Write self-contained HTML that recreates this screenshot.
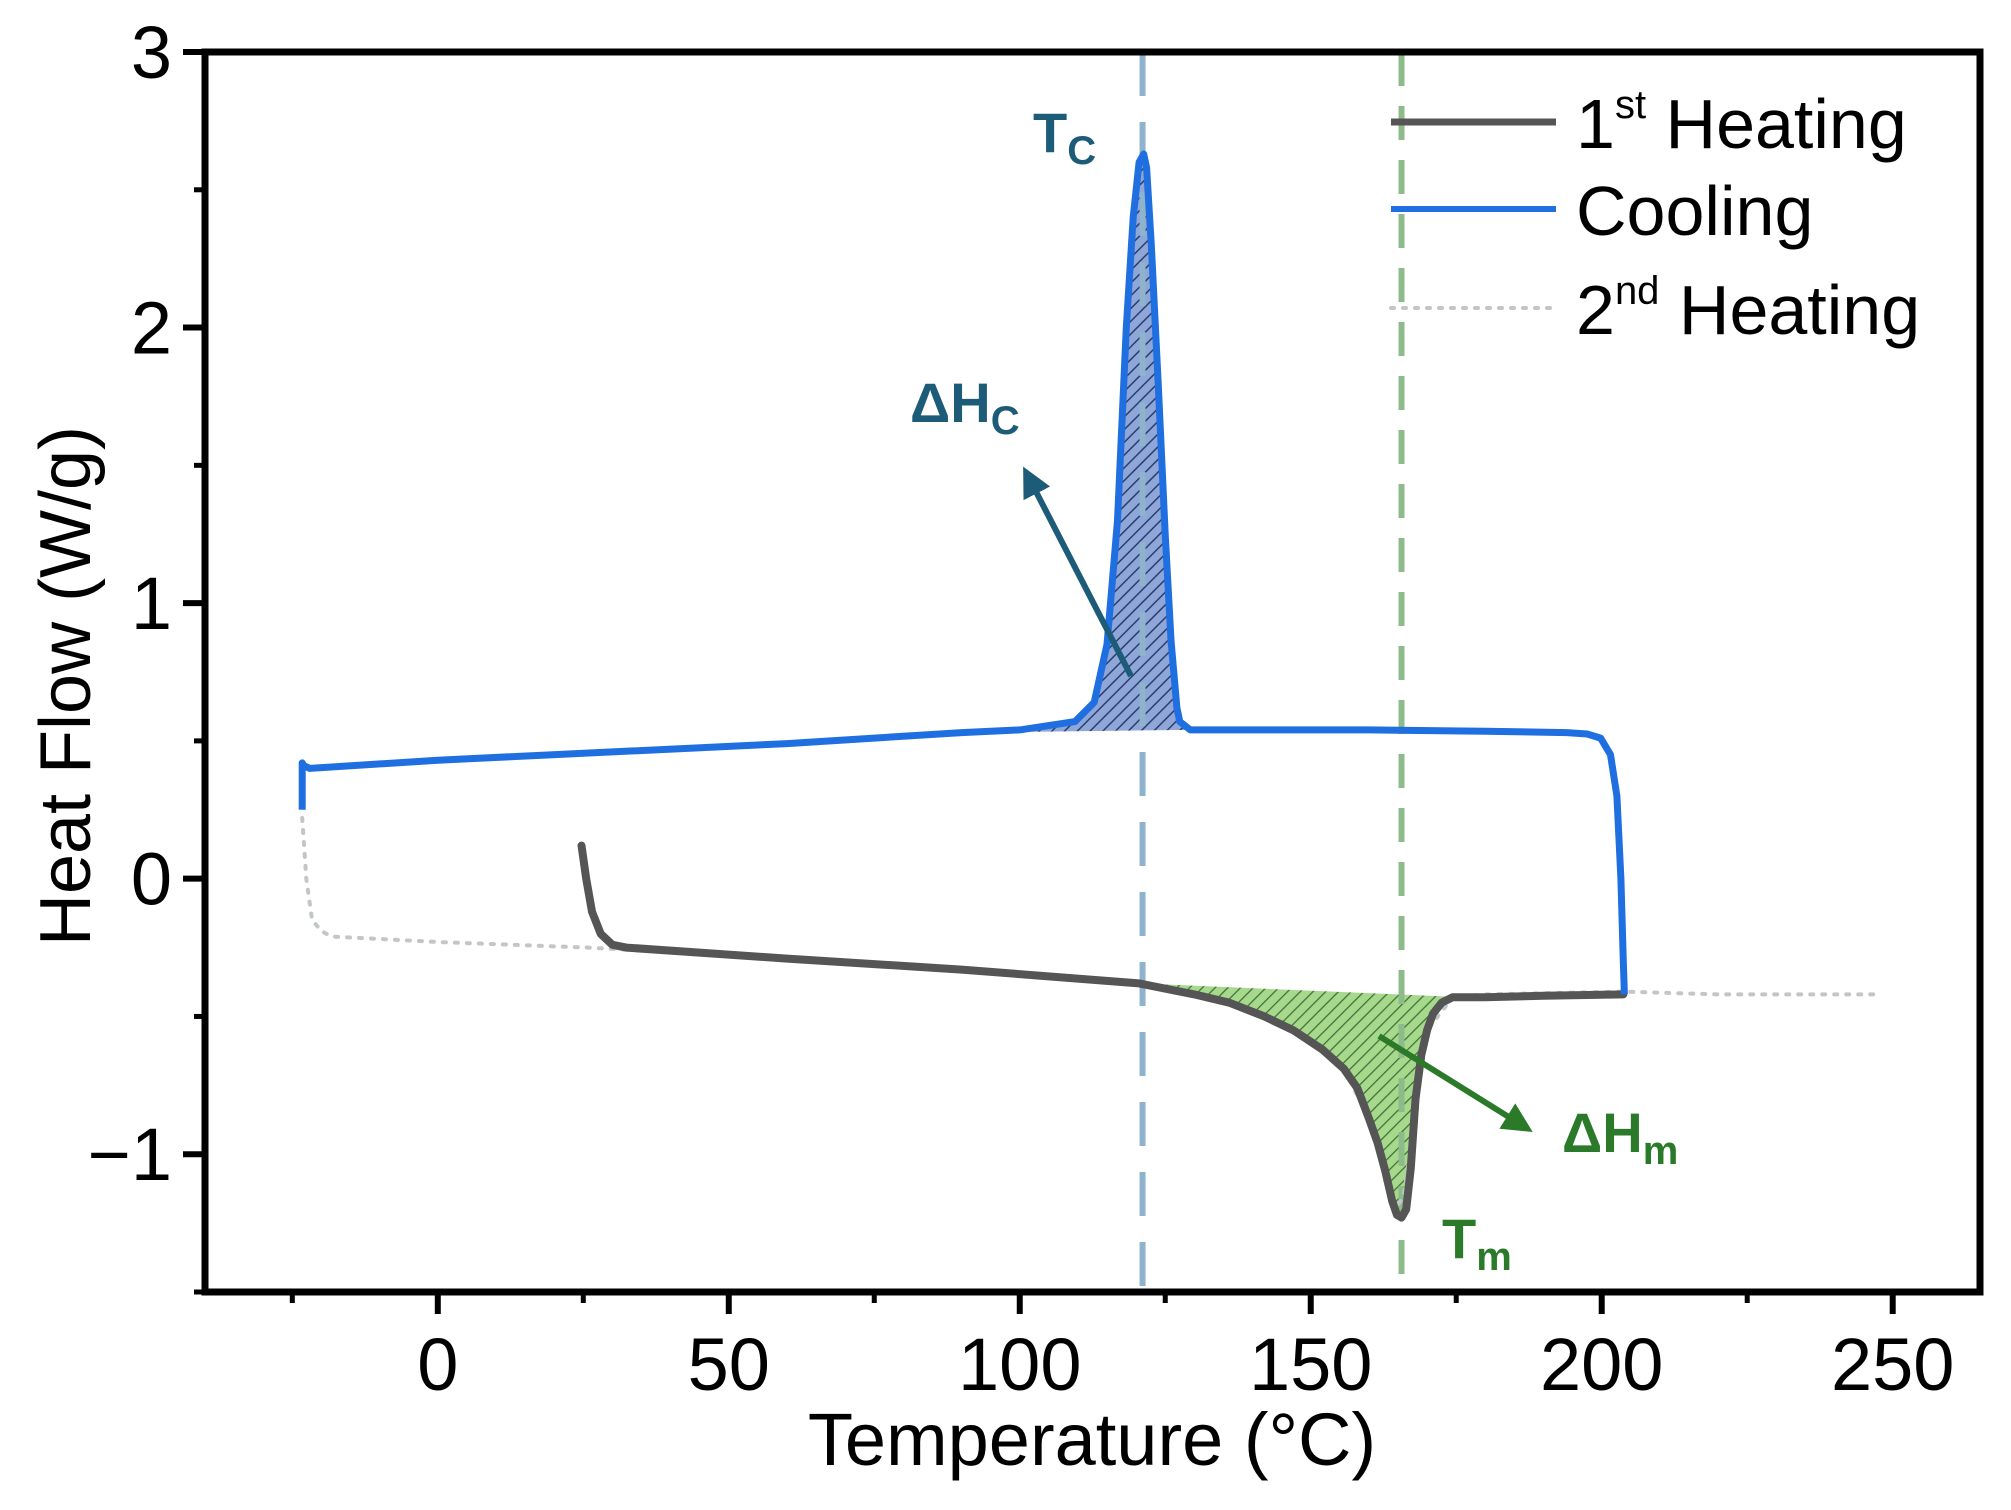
<!DOCTYPE html>
<html><head><meta charset="utf-8"><style>
html,body{margin:0;padding:0;background:#fff;}
svg{display:block;font-family:"Liberation Sans",Arial,sans-serif;}
</style></head><body>
<svg id="chart" width="2011" height="1510" viewBox="0 0 2011 1510" xmlns="http://www.w3.org/2000/svg">
<defs>
<pattern id="hatchBlue" patternUnits="userSpaceOnUse" width="9" height="9" patternTransform="rotate(45)">
<rect width="9" height="9" fill="#8fa6d8"/><line x1="0" y1="0" x2="0" y2="9" stroke="#2a3e6e" stroke-width="3"/></pattern>
<pattern id="hatchGreen" patternUnits="userSpaceOnUse" width="9" height="9" patternTransform="rotate(45)">
<rect width="9" height="9" fill="#a6d98c"/><line x1="0" y1="0" x2="0" y2="9" stroke="#3f6e37" stroke-width="2.5"/></pattern>
<marker id="arrTeal" markerWidth="5" markerHeight="5" refX="2.5" refY="2.5" orient="auto" markerUnits="strokeWidth"><path d="M0,0 L5,2.5 L0,5 Z" fill="#1d5c78"/></marker>
<marker id="arrGreen" markerWidth="5" markerHeight="5" refX="2.5" refY="2.5" orient="auto" markerUnits="strokeWidth"><path d="M0,0 L5,2.5 L0,5 Z" fill="#2a7a2a"/></marker>
</defs>
<g id="plot"></g>
</svg>
<script>
const xTicks=[0,50,100,150,200,250];
const xMinorTicks=[-25,25,75,125,175,225];
const yTicks=[3,2,1,0,-1];
const yTickLabels=["3","2","1","0","\u22121"];
const yMinorTicks=[2.5,1.5,0.5,-0.5,-1.5];
const coolingX=[-23.3,-23.3,-23,-22,0,30,60,90,100,109.5,112.8,115,116.8,118.3,119.5,120.5,121.3,121.8,122.6,123.8,125,126,127,127.5,129.3,140,160,180,194,197.5,199.8,201.5,202.6,203.3,203.7,203.9];
const coolingY=[0.25,0.42,0.41,0.40,0.43,0.46,0.49,0.53,0.54,0.57,0.64,0.85,1.3,2.0,2.4,2.6,2.63,2.58,2.3,1.79,1.25,0.86,0.62,0.57,0.54,0.54,0.54,0.535,0.53,0.525,0.51,0.45,0.3,0.0,-0.3,-0.42];
const heat1X=[24.7,25.5,26.5,28,30,32.4,60,90,120.5,130,136,142,147,152,155.7,158,160,161.5,162.8,164,164.8,165.6,166.4,167.2,168,169,170,171,172.5,174.4,180,190,203.7];
const heat1Y=[0.12,0.0,-0.12,-0.2,-0.24,-0.25,-0.29,-0.33,-0.38,-0.42,-0.45,-0.5,-0.55,-0.62,-0.69,-0.76,-0.87,-0.96,-1.06,-1.17,-1.22,-1.23,-1.2,-1.05,-0.8,-0.64,-0.55,-0.49,-0.45,-0.43,-0.43,-0.425,-0.42];
const heat2X=[-23.3,-22.6,-21.6,-20,-18.3,0,25.8,60,90,120.5,136,147,155.7,160,162.8,164.5,166,170,174.4,180,203.7,220,247];
const heat2Y=[0.22,0.0,-0.15,-0.19,-0.21,-0.23,-0.25,-0.29,-0.33,-0.38,-0.45,-0.55,-0.69,-0.87,-1.06,-1.2,-1.15,-0.55,-0.43,-0.42,-0.41,-0.42,-0.42];
const tc=121.1, tm=165.6;
const coolBaseX=[90,129.3], coolBaseY=[0.53,0.54];
const meltBaseX=[120.5,176], meltBaseY=[-0.38,-0.43];

const X0=205,X1=1980,XMIN=-40,XMAX=265;
const Y0=1292,Y1=52,YMIN=-1.5,YMAX=3;
const sx=v=>X0+(v-XMIN)/(XMAX-XMIN)*(X1-X0);
const sy=v=>Y0-(v-YMIN)/(YMAX-YMIN)*(Y0-Y1);
const NS="http://www.w3.org/2000/svg";
const g=document.getElementById('plot');
function mk(tag,attrs,parent){const e=document.createElementNS(NS,tag);for(const k in attrs)e.setAttribute(k,attrs[k]);(parent||g).appendChild(e);return e;}
function pts(xs,ys){return xs.map((x,i)=>sx(x).toFixed(1)+','+sy(ys[i]).toFixed(1));}

function areaPath(xs,ys,x0,x1,bx,by){
  const p=[];xs.forEach((x,i)=>{if(x>=x0&&x<=x1)p.push(sx(x).toFixed(1)+','+sy(ys[i]).toFixed(1));});
  return 'M'+sx(bx[0])+','+sy(by[0])+' L'+p.join(' L')+' L'+sx(bx[1])+','+sy(by[1])+' Z';
}
let a=mk('path',{d:areaPath(coolingX,coolingY,coolBaseX[0],coolBaseX[1],coolBaseX,coolBaseY),fill:'url(#hatchBlue)'});


a=mk('path',{d:areaPath(heat1X,heat1Y,meltBaseX[0],meltBaseX[1],meltBaseX,meltBaseY),fill:'url(#hatchGreen)'});



let d=mk('line',{x1:sx(tc),x2:sx(tc),y1:Y1,y2:Y0,stroke:'#8fb3cc','stroke-width':6,'stroke-dasharray':'44,26'});


d=mk('line',{x1:sx(tm),x2:sx(tm),y1:Y1,y2:Y0,stroke:'#8dbb8a','stroke-width':6,'stroke-dasharray':'34,20'});



let s=mk('polyline',{points:pts(heat2X,heat2Y).join(' '),fill:'none',stroke:'#c3c6c8','stroke-width':4,'stroke-dasharray':'3,9','stroke-linecap':'round'});


s=mk('polyline',{points:pts(heat1X,heat1Y).join(' '),fill:'none',stroke:'#555','stroke-width':8,'stroke-linejoin':'round','stroke-linecap':'round'});


s=mk('polyline',{points:pts(coolingX,coolingY).join(' '),fill:'none',stroke:'#1f6fe0','stroke-width':7,'stroke-linejoin':'round'});



let f=mk('rect',{x:X0,y:Y1,width:X1-X0,height:Y0-Y1,fill:'none',stroke:'#000','stroke-width':7});



xTicks.forEach((v,i)=>{
  const t=mk('line',{x1:sx(v),x2:sx(v),y1:Y0,y2:Y0+22,stroke:'#000','stroke-width':6});
  
  
  const l=mk('text',{x:sx(v),y:1390,'font-size':74,'text-anchor':'middle',fill:'#000'});
  l.textContent=String(v);
  
  
});
xMinorTicks.forEach(v=>{
  const t=mk('line',{x1:sx(v),x2:sx(v),y1:Y0,y2:Y0+11,stroke:'#000','stroke-width':5});
  
  
});
yTicks.forEach((v,i)=>{
  const t=mk('line',{x1:X0-22,x2:X0,y1:sy(v),y2:sy(v),stroke:'#000','stroke-width':6});
  
  
  const l=mk('text',{x:172,y:sy(v)+26,'font-size':74,'text-anchor':'end',fill:'#000'});
  l.textContent=yTickLabels[i];
  
  
});
yMinorTicks.forEach(v=>{
  const t=mk('line',{x1:X0-11,x2:X0,y1:sy(v),y2:sy(v),stroke:'#000','stroke-width':5});
  
  
});
</script>
<script>
(function(){
const NS="http://www.w3.org/2000/svg";const svg=document.getElementById('chart');
function txt(html,attrs,name){const e=document.createElementNS(NS,'text');for(const k in attrs)e.setAttribute(k,attrs[k]);e.innerHTML=html;svg.appendChild(e);return e;}
function ln(attrs,name){const e=document.createElementNS(NS,'line');for(const k in attrs)e.setAttribute(k,attrs[k]);svg.appendChild(e);return e;}
txt('Temperature (°C)',{x:1092,y:1465,'font-size':74,'text-anchor':'middle'},'x-axis-title');
txt('Heat Flow (W/g)',{x:0,y:0,'font-size':72,'text-anchor':'middle',transform:'translate(90,686) rotate(-90)'},'y-axis-title');
txt('T<tspan font-size="40" dy="12">C</tspan>',{x:1033,y:152,'font-size':56,'font-weight':'bold',fill:'#1d5c78'},'tc-label');
txt('ΔH<tspan font-size="40" dy="12">C</tspan>',{x:910,y:422,'font-size':56,'font-weight':'bold',fill:'#1d5c78'},'delta-hc-label');
ln({x1:1131,y1:676,x2:1030,y2:480,stroke:'#1d5c78','stroke-width':6,'marker-end':'url(#arrTeal)'},'delta-hc-arrow');
txt('ΔH<tspan font-size="40" dy="12">m</tspan>',{x:1562,y:1152,'font-size':56,'font-weight':'bold',fill:'#2a7a2a'},'delta-hm-label');
ln({x1:1379,y1:1036,x2:1520,y2:1124,stroke:'#2a7a2a','stroke-width':6,'marker-end':'url(#arrGreen)'},'delta-hm-arrow');
txt('T<tspan font-size="40" dy="12">m</tspan>',{x:1442,y:1258,'font-size':56,'font-weight':'bold',fill:'#2a7a2a'},'tm-label');
ln({x1:1391,x2:1556,y1:122,y2:122,stroke:'#555','stroke-width':7},'legend-first-heating-swatch');
txt('1<tspan font-size="40" dy="-30">st</tspan><tspan dy="30"> Heating</tspan>',{x:1576,y:148,'font-size':70},'legend-first-heating');
ln({x1:1391,x2:1556,y1:209,y2:209,stroke:'#1f6fe0','stroke-width':6},'legend-cooling-swatch');
txt('Cooling',{x:1576,y:235,'font-size':70},'legend-cooling');
ln({x1:1391,x2:1556,y1:308,y2:308,stroke:'#c3c6c8','stroke-width':4,'stroke-dasharray':'3,9','stroke-linecap':'round'},'legend-second-heating-swatch');
txt('2<tspan font-size="40" dy="-30">nd</tspan><tspan dy="30"> Heating</tspan>',{x:1576,y:334,'font-size':70},'legend-second-heating');
})();
</script>
</body></html>
